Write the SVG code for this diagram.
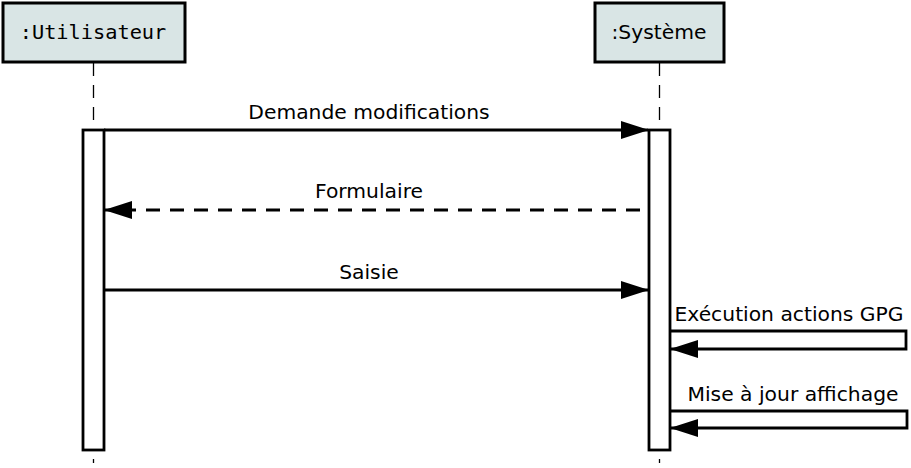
<svg xmlns="http://www.w3.org/2000/svg" width="911" height="468" viewBox="0 0 911 468">
<style>
.head{fill:#d9e5e5;stroke:#000;stroke-width:3}
.act{fill:#fff;stroke:#000;stroke-width:2.8}
.life{stroke:#000;stroke-width:1.3;stroke-dasharray:13 9;fill:none}
.msg{stroke:#000;stroke-width:2.8;fill:none;marker-end:url(#ah)}
.dash{stroke-dasharray:14 10}
.t{font-family:"DejaVu Sans","Liberation Sans",sans-serif;font-size:20.3px;fill:#000;text-anchor:middle}
.mono{font-family:"DejaVu Sans Mono","Liberation Mono",monospace}
</style>
<defs>
<marker id="ah" markerUnits="userSpaceOnUse" markerWidth="28" markerHeight="20" refX="27" refY="10" orient="auto">
<path d="M0,1 L28,10 L0,19 Z" fill="#000"/>
</marker>
</defs>
<g id="lifelines">
<line class="life" x1="93.5" y1="63" x2="93.5" y2="463"/>
<line class="life" x1="659.5" y1="63" x2="659.5" y2="463"/>
</g>
<g id="utilisateur">
<rect class="head" x="3" y="3" width="182" height="59"/>
<text class="t mono" x="93" y="39">:Utilisateur</text>
<rect class="act" x="83" y="130" width="21" height="320"/>
</g>
<g id="systeme">
<rect class="head" x="595" y="3" width="129" height="59"/>
<text class="t" x="659" y="39">:Système</text>
<rect class="act" x="649" y="130" width="21" height="320"/>
</g>
<g id="connectors">
<path class="msg" d="M104,130 H648"/>
<text class="t" x="369" y="119">Demande modifications</text>
<path class="msg dash" d="M640,210 H105"/>
<text class="t" x="369" y="198">Formulaire</text>
<path class="msg" d="M104,290 H648"/>
<text class="t" x="369" y="279">Saisie</text>
<path class="msg" d="M670,331 H906 V349 H671"/>
<text class="t" x="789" y="321">Exécution actions GPG</text>
<path class="msg" d="M670,411 H907 V428 H671"/>
<text class="t" x="793" y="401">Mise à jour affichage</text>
</g>
</svg>
